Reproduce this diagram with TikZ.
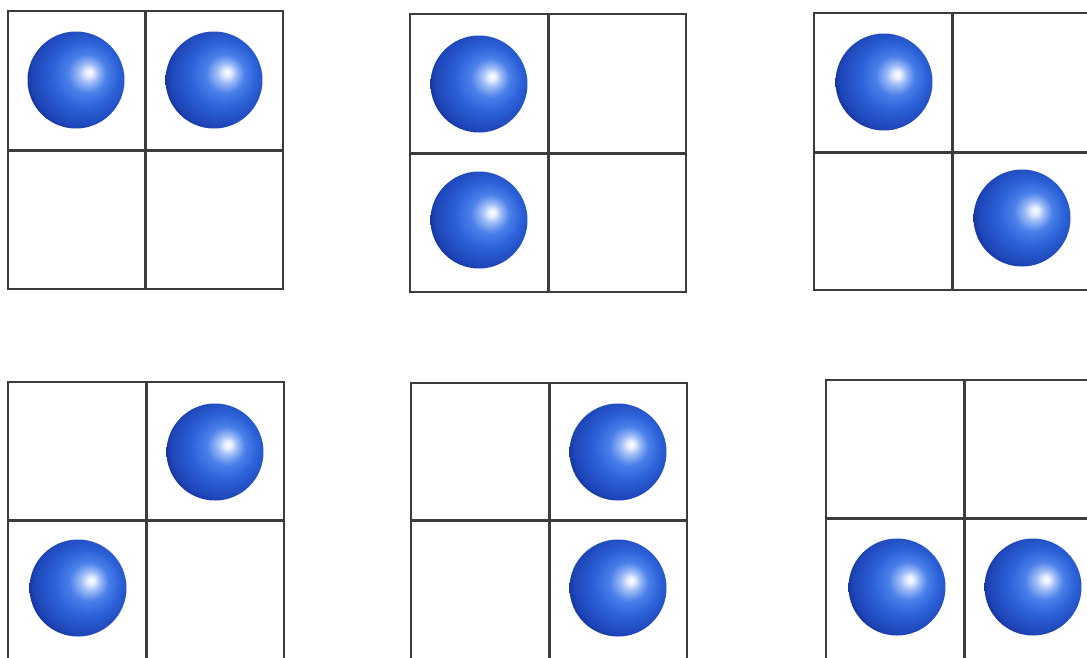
\documentclass[tikz,border=0pt]{standalone}
\usetikzlibrary{shapes.geometric}
\definecolor{gridline}{HTML}{3C3C3C}
\definecolor{ballhi}{HTML}{E4ECFF}
\definecolor{balllight}{HTML}{9DBBF6}
\definecolor{ballmid}{HTML}{4A80EA}
\definecolor{ballmain}{HTML}{2C62D8}
\definecolor{balldark}{HTML}{1E46B8}
\definecolor{balledge}{HTML}{0C1E84}
\pgfdeclareradialshading{myball}{\pgfpoint{7bp}{4bp}}{%
  color(0bp)=(white);
  color(2bp)=(ballhi);
  color(5bp)=(balllight);
  color(10bp)=(ballmid);
  color(17bp)=(ballmain);
  color(26bp)=(balldark);
  color(32bp)=(balledge);
  color(50bp)=(balledge)}
\tikzset{
  gridbox/.style={draw=gridline, line width=2.6pt, fill=white},
  gridmid/.style={draw=gridline, line width=3pt},
  ball/.style={circle, minimum size=97pt, inner sep=0pt, shading=myball}
}
\newcommand{\mygrid}[6]{%
  \draw[gridbox] (#1,#2) rectangle (#5,#6);
  \draw[gridmid] (#3,#2) -- (#3,#6);
  \draw[gridmid] (#1,#4) -- (#5,#4);
}
\begin{document}
\begin{tikzpicture}[x=1pt,y=-1pt]
\useasboundingbox (0,0) rectangle (1087,657);
\clip (0,0) rectangle (1087,657);
\fill[white] (0,0) rectangle (1087,657);
% grids: left, top, midx, midy, right, bottom
\mygrid{8}{11}{145}{150}{283}{289}
\mygrid{410}{14}{548}{153}{686}{292}
\mygrid{814}{13}{952}{152}{1092}{290}
\mygrid{8}{382}{146}{520}{284}{662}
\mygrid{411}{383}{549}{520}{687}{662}
\mygrid{826}{380}{964}{518}{1104}{662}
% balls
\node[ball] (b1a) at (76,80) {};
\node[ball] (b1b) at (214,80) {};
\node[ball] (b2a) at (479,84) {};
\node[ball] (b2b) at (479,220) {};
\node[ball] (b3a) at (884,82) {};
\node[ball] (b3b) at (1022,218) {};
\node[ball] (b4a) at (215,452) {};
\node[ball] (b4b) at (78,588) {};
\node[ball] (b5a) at (618,452) {};
\node[ball] (b5b) at (618,588) {};
\node[ball] (b6a) at (897,587) {};
\node[ball] (b6b) at (1033,587) {};
\end{tikzpicture}
\end{document}
